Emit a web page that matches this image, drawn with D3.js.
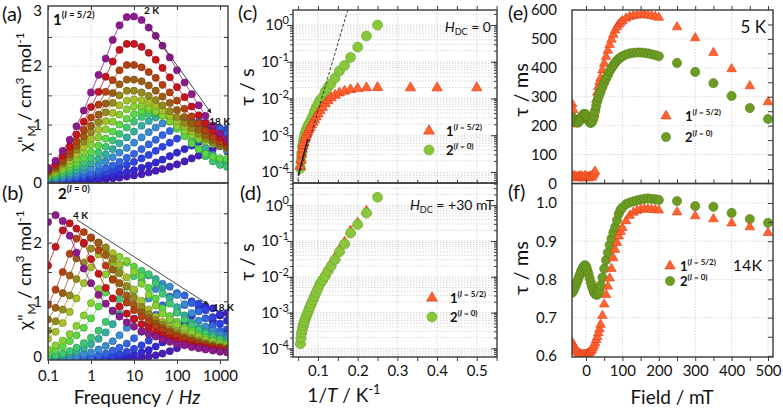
<!DOCTYPE html>
<html>
<head>
<meta charset="utf-8">
<script src="https://cdn.jsdelivr.net/npm/d3@7"></script>
<style>
  body { margin: 0; background: #fff; }
  svg text { font-family: Lato, "Open Sans", "DejaVu Sans", sans-serif; fill: #111; }
</style>
</head>
<body>
<svg id="chart" width="783" height="411"></svg>
<script>
// ---------- chi'' vs frequency, panels (a) and (b) ----------
const freqs = [0.1,0.15,0.22,0.32,0.46,0.68,1,1.5,2.2,3.2,4.6,6.8,10,15,22,32,46,68,100,150,220,320,460,680,1000,1450];

// one colour per temperature, low T first
const tempColors = ["#8e1a8e","#c8141e","#b4420f","#9c5e14","#968a1c","#a6c02a","#86d232","#5ad845",
                    "#3ec872","#34ae9e","#3a8cd4","#3366e4","#2e44e2","#3428d4","#4a1cbe"];

// compound 1 (2 K ... 18 K)
const chiCurves1 = [
  [0.26,0.38,0.55,0.74,0.97,1.24,1.55,1.85,2.13,2.45,2.7,2.84,2.85,2.79,2.66,2.52,2.35,2.15,1.93,1.72,1.52,1.33,1.15,0.98,0.85,0.75],
  [0.24,0.33,0.47,0.63,0.83,1.05,1.3,1.56,1.82,2.08,2.28,2.38,2.38,2.33,2.23,2.11,1.97,1.81,1.64,1.47,1.31,1.16,1.02,0.89,0.78,0.7],
  [0.22,0.3,0.41,0.55,0.72,0.91,1.12,1.34,1.56,1.76,1.93,2.02,2.02,1.98,1.9,1.8,1.68,1.55,1.41,1.27,1.14,1.02,0.9,0.8,0.71,0.65],
  [0.2,0.27,0.37,0.49,0.64,0.8,0.98,1.17,1.36,1.54,1.69,1.77,1.77,1.74,1.67,1.58,1.48,1.37,1.25,1.13,1.02,0.92,0.82,0.74,0.67,0.62],
  [0.18,0.24,0.33,0.44,0.57,0.71,0.87,1.04,1.21,1.37,1.5,1.58,1.58,1.55,1.49,1.42,1.33,1.23,1.13,1.03,0.94,0.85,0.77,0.7,0.64,0.6],
  [0.16,0.21,0.29,0.38,0.49,0.62,0.76,0.91,1.06,1.2,1.33,1.41,1.43,1.42,1.38,1.32,1.24,1.15,1.06,0.97,0.89,0.82,0.75,0.69,0.64,0.6],
  [0.14,0.18,0.24,0.32,0.42,0.53,0.65,0.78,0.92,1.05,1.17,1.26,1.31,1.32,1.29,1.23,1.15,1.06,0.97,0.89,0.82,0.76,0.71,0.67,0.64,0.62],
  [0.12,0.16,0.21,0.27,0.34,0.43,0.53,0.64,0.76,0.88,1.0,1.1,1.18,1.23,1.25,1.22,1.15,1.05,0.93,0.8,0.68,0.58,0.5,0.45,0.42,0.41],
  [0.1,0.13,0.17,0.22,0.28,0.35,0.43,0.52,0.62,0.73,0.84,0.95,1.05,1.13,1.18,1.2,1.17,1.1,0.99,0.86,0.72,0.58,0.46,0.37,0.31,0.28],
  [0.08,0.1,0.13,0.17,0.22,0.27,0.34,0.41,0.49,0.58,0.68,0.78,0.88,0.98,1.06,1.12,1.16,1.15,1.1,1.0,0.88,0.74,0.6,0.48,0.38,0.32],
  [0.06,0.08,0.1,0.13,0.16,0.2,0.25,0.31,0.37,0.44,0.52,0.6,0.69,0.78,0.87,0.95,1.02,1.08,1.11,1.1,1.05,0.97,0.87,0.75,0.64,0.55],
  [0.04,0.05,0.07,0.09,0.11,0.14,0.17,0.21,0.25,0.3,0.36,0.43,0.5,0.58,0.66,0.74,0.82,0.89,0.95,1.0,1.03,1.05,1.03,0.98,0.92,0.85],
  [0.03,0.04,0.05,0.06,0.08,0.1,0.12,0.15,0.18,0.22,0.26,0.31,0.36,0.42,0.48,0.55,0.62,0.69,0.76,0.82,0.87,0.91,0.94,0.95,0.94,0.92],
  [0.02,0.02,0.03,0.04,0.05,0.06,0.07,0.09,0.11,0.13,0.16,0.19,0.22,0.26,0.3,0.35,0.4,0.46,0.52,0.58,0.64,0.7,0.75,0.8,0.84,0.87],
  [0.01,0.01,0.02,0.02,0.03,0.04,0.04,0.05,0.06,0.08,0.09,0.11,0.13,0.15,0.18,0.21,0.24,0.28,0.32,0.37,0.42,0.47,0.52,0.58,0.63,0.68]
];

// compound 2 (4 K ... 18 K)
const chiCurves2 = [
  [2.35,2.47,2.37,2.12,1.83,1.56,1.31,1.11,0.96,0.84,0.74,0.64,0.57,0.49,0.44,0.4,0.35,0.31,0.27,0.25,0.22,0.2,0.18,0.16,0.14,0.13],
  [1.61,1.93,2.21,2.33,2.24,2.0,1.72,1.47,1.23,1.05,0.91,0.79,0.7,0.61,0.54,0.47,0.42,0.37,0.33,0.29,0.26,0.23,0.21,0.19,0.17,0.15],
  [0.94,1.2,1.5,1.81,2.07,2.18,2.09,1.87,1.61,1.37,1.16,0.98,0.85,0.74,0.65,0.57,0.5,0.44,0.39,0.35,0.31,0.27,0.24,0.22,0.2,0.17],
  [0.69,0.89,1.14,1.44,1.73,1.98,2.08,2.0,1.79,1.54,1.31,1.1,0.94,0.81,0.71,0.62,0.54,0.48,0.42,0.37,0.33,0.29,0.26,0.23,0.21,0.19],
  [0.5,0.66,0.86,1.1,1.38,1.66,1.9,2.0,1.92,1.72,1.48,1.26,1.06,0.9,0.78,0.68,0.6,0.52,0.46,0.4,0.36,0.32,0.28,0.25,0.22,0.2],
  [0.36,0.48,0.63,0.82,1.05,1.31,1.58,1.8,1.9,1.82,1.63,1.41,1.2,1.01,0.86,0.74,0.65,0.57,0.49,0.44,0.38,0.34,0.3,0.27,0.24,0.21],
  [0.18,0.25,0.33,0.44,0.58,0.76,0.97,1.21,1.46,1.67,1.76,1.69,1.51,1.3,1.11,0.93,0.79,0.69,0.6,0.53,0.46,0.4,0.35,0.32,0.28,0.25],
  [0.12,0.17,0.23,0.32,0.42,0.55,0.71,0.91,1.15,1.38,1.58,1.66,1.59,1.43,1.23,1.05,0.88,0.75,0.65,0.56,0.5,0.43,0.38,0.33,0.3,0.27],
  [0.06,0.08,0.11,0.15,0.21,0.29,0.38,0.5,0.65,0.83,1.04,1.25,1.43,1.52,1.46,1.31,1.13,0.96,0.81,0.69,0.59,0.51,0.45,0.39,0.35,0.3],
  [0.04,0.06,0.08,0.11,0.14,0.2,0.27,0.36,0.47,0.61,0.78,0.98,1.18,1.35,1.44,1.38,1.24,1.06,0.9,0.76,0.64,0.55,0.48,0.43,0.37,0.33],
  [0.02,0.03,0.04,0.05,0.07,0.1,0.13,0.18,0.24,0.32,0.42,0.55,0.7,0.88,1.05,1.21,1.3,1.25,1.11,0.95,0.8,0.67,0.57,0.5,0.43,0.38],
  [0.01,0.01,0.02,0.03,0.03,0.05,0.06,0.08,0.11,0.16,0.21,0.28,0.37,0.48,0.62,0.77,0.93,1.08,1.14,1.1,0.97,0.83,0.71,0.59,0.5,0.44],
  [0,0.01,0.01,0.01,0.02,0.02,0.03,0.04,0.05,0.07,0.1,0.14,0.19,0.25,0.33,0.42,0.54,0.68,0.81,0.94,1.0,0.96,0.85,0.73,0.62,0.52],
  [0,0,0.01,0.01,0.01,0.01,0.01,0.02,0.03,0.04,0.05,0.07,0.09,0.13,0.17,0.23,0.3,0.39,0.5,0.62,0.76,0.88,0.92,0.88,0.78,0.67],
  [0,0,0,0,0,0,0,0.01,0.01,0.01,0.02,0.02,0.03,0.04,0.06,0.08,0.11,0.15,0.2,0.26,0.34,0.44,0.55,0.66,0.76,0.8]
];

const freqTicks = [0.1, 1, 10, 100, 1000];
const chiTicks = [0, 1, 2];
// arrow annotations [freq, chi'']
const arrowA = [[21, 2.71], [617, 1.2]];
const arrowB = [[0.47, 2.39], [525, 0.95]];

// ---------- tau vs 1/T, panels (c) and (d) ----------
const invT = [0.0556,0.0571,0.0588,0.0606,0.0625,0.0645,0.0667,0.069,0.0714,0.0741,0.0769,0.08,0.0833,0.087,
              0.0909,0.0952,0.1,0.105,0.111,0.118,0.125,0.133,0.143,0.154,0.167,0.182,0.2,0.222,0.25];
const invTLow = [0.333, 0.4, 0.5];
// log10(tau / s)
const logTau1_0 = [-3.85,-3.68,-3.52,-3.38,-3.28,-3.2,-3.12,-3.05,-2.98,-2.91,-2.85,-2.79,-2.72,-2.65,-2.58,-2.5,
                   -2.42,-2.33,-2.24,-2.14,-2.06,-1.98,-1.91,-1.85,-1.8,-1.76,-1.73,-1.71,-1.7,-1.71,-1.71,-1.71];
const logTau2_0 = [-3.9,-3.7,-3.5,-3.3,-3.17,-3.07,-2.98,-2.9,-2.83,-2.76,-2.7,-2.65,-2.57,-2.48,-2.36,-2.25,
                   -2.15,-2.05,-1.97,-1.82,-1.7,-1.6,-1.44,-1.25,-1.1,-0.88,-0.6,-0.3,0];
const logTau1_30 = [-3.82,-3.66,-3.52,-3.42,-3.33,-3.25,-3.18,-3.1,-3.02,-2.95,-2.86,-2.77,-2.68,-2.58,-2.48,-2.37,
                    -2.26,-2.15,-2.04,-1.92,-1.79,-1.64,-1.46,-1.25,-1.03,-0.72,-0.5,-0.17];
const logTau2_30 = [-3.87,-3.7,-3.55,-3.45,-3.36,-3.28,-3.22,-3.14,-3.07,-3.0,-2.92,-2.84,-2.75,-2.65,-2.55,-2.44,
                    -2.32,-2.2,-2.1,-1.98,-1.84,-1.7,-1.52,-1.3,-1.08,-0.78,-0.54,-0.22,0.22];
const orbachInvT = [0.045, 0.18];
const orbachLogTau = [-4.36, 0.6];
const fitC_invT = [0.05, 0.074];
const fitC_logTau = [-4.1, -3.1];
const fitD_invT = [0.053,0.06,0.07,0.08,0.09,0.1,0.11,0.12,0.13,0.14,0.15,0.16];
const fitD_logTau = [-3.85,-3.5,-3.12,-2.84,-2.6,-2.33,-2.12,-1.95,-1.75,-1.56,-1.38,-1.2];
const invTTicks = [0.1, 0.2, 0.3, 0.4, 0.5];
const tauTicks = [1e-4, 1e-3, 1e-2, 1e-1, 1];

// ---------- tau vs field, panels (e) and (f) ----------
const fieldDense = [-38,-35,-32,-29,-26,-23,-20,-17,-14,-11,-8,-5,-2,1,4,7,10,13,16,19,22,25,28,31,34,37,
                    40,45,50,55,60,65,70,75,80,85,90,95,100,110,120,130,140,150,160,170,180,190,200];
const fieldFast = [-38,-35,-32,-29,-26,-23,-20,-17,-14,-11,-8,-5,-2,1,4,7,10,13,16,19,22,25];
const fieldSparse = [250, 300, 350, 400, 450, 500];
// 5 K, tau in ms
const tau1_5K = [275,255,228,205,215,220,222,224,225,226,226,226,225,224,222,220,218,218,222,230,242,262,290,315,335,352,
                 365,392,415,438,460,480,498,515,530,541,550,557,563,571,577,580,582,583,583,582,580,577,574];
const tau1_5K_fast = [25,22,27,20,24,19,23,26,21,25,18,22,27,20,24,19,23,26,21,28,35,42];
const tau2_5K = [228,224,219,215,212,211,213,218,225,232,238,241,240,236,229,220,212,209,212,220,232,250,268,285,298,308,
                 318,333,348,362,375,388,399,409,417,425,431,436,440,446,450,452,453,453,452,450,447,444,440];
const tau1_5K_sparse = [541, 503, 452, 396, 337, 282];
const tau2_5K_sparse = [417, 386, 347, 303, 261, 223];
// 14 K, tau in ms
const tau1_14K = [0.635,0.628,0.622,0.617,0.613,0.61,0.607,0.605,0.604,0.603,0.603,0.603,0.603,0.604,0.605,0.607,0.609,0.612,
                  0.616,0.621,0.627,0.634,0.642,0.65,0.66,0.67,0.682,0.705,0.735,0.76,0.782,0.803,0.828,0.856,0.878,0.896,
                  0.913,0.925,0.935,0.953,0.967,0.975,0.98,0.983,0.984,0.984,0.983,0.982,0.981];
const tau2_14K = [0.765,0.77,0.776,0.783,0.79,0.797,0.805,0.812,0.82,0.826,0.832,0.836,0.837,0.832,0.824,0.814,0.803,0.792,
                  0.782,0.774,0.767,0.762,0.76,0.76,0.764,0.772,0.785,0.805,0.828,0.85,0.87,0.89,0.907,0.923,0.937,0.955,
                  0.972,0.982,0.988,0.997,1.001,1.004,1.007,1.009,1.011,1.012,1.011,1.01,1.008];
const tau1_14K_sparse = [0.976, 0.966, 0.958, 0.947, 0.937, 0.922];
const tau2_14K_sparse = [1.005, 0.992, 0.99, 0.974, 0.958, 0.948];
const fieldTicks = [0, 100, 200, 300, 400, 500];
const msTicks = [0, 100, 200, 300, 400, 500, 600];
const ms14Ticks = [0.6, 0.7, 0.8, 0.9, 1.0];

// ---------- layout ----------
const box = {
  a: [48, 6, 228, 183],   b: [48, 183, 228, 360],
  c: [293, 10, 497, 183], d: [293, 183, 497, 357],
  e: [572, 10, 773, 183.5], f: [572, 183.5, 773, 357]
};
const RED = "#ff6430", RED_EDGE = "#e03a18";
const LGREEN = "#88c63c", LGREEN_EDGE = "#6aa828";
const DGREEN = "#6c9c22", DGREEN_EDGE = "#557f18";

const svg = d3.select("#chart");
const defs = svg.append("defs");
defs.append("marker").attr("id", "arrow").attr("viewBox", "0 0 10 10")
  .attr("refX", 9).attr("refY", 5).attr("markerWidth", 5).attr("markerHeight", 5).attr("orient", "auto")
  .append("path").attr("d", "M0,0L10,5L0,10z").attr("fill", "#222");

// scales
const xFreq = d3.scaleLog().domain([0.1, 1535]).range([48, 228]);
const yChiA = d3.scaleLinear().domain([0, 3.03]).range([183, 6]);
const yChiB = d3.scaleLinear().domain([0, 3]).range([360, 184]);
const xInvT = d3.scaleLinear().domain([0.037, 0.551]).range([293, 497]);
const yTauC = d3.scaleLog().domain([10 ** -4.3, 10 ** 0.41]).range([183, 10]);
const yTauD = d3.scaleLog().domain([10 ** -4.24, 10 ** 0.62]).range([357, 183]);
const xField = d3.scaleLinear().domain([-38.5, 513.7]).range([572, 773]);
const yTauE = d3.scaleLinear().domain([0, 600]).range([183.5, 10]);
const yTauF = d3.scaleLinear().domain([0.597, 1.051]).range([357, 183.5]);

function clipped(name) {
  const [x0, y0, x1, y1] = box[name];
  defs.append("clipPath").attr("id", "clip-" + name).append("rect")
    .attr("x", x0).attr("y", y0).attr("width", x1 - x0).attr("height", y1 - y0);
  return svg.append("g").attr("clip-path", `url(#clip-${name})`);
}

function grid(g, name, xs, xs_scale, ys, ys_scale) {
  const [x0, y0, x1, y1] = box[name];
  g.append("g").selectAll("line").data(xs).join("line")
    .attr("x1", d => xs_scale(d)).attr("x2", d => xs_scale(d)).attr("y1", y0).attr("y2", y1);
  g.append("g").selectAll("line").data(ys).join("line")
    .attr("y1", d => ys_scale(d)).attr("y2", d => ys_scale(d)).attr("x1", x0).attr("x2", x1);
  g.selectAll("line").attr("stroke", "#c9c9c9").attr("stroke-width", 0.7).attr("stroke-dasharray", "1.5,1.5");
}

function frame(name) {
  const [x0, y0, x1, y1] = box[name];
  svg.append("rect").attr("x", x0).attr("y", y0).attr("width", x1 - x0).attr("height", y1 - y0)
    .attr("fill", "none").attr("stroke", "#3a3a3a").attr("stroke-width", 1.4);
}

function ticks(axisFn, scale, vals, size, tx, ty) {
  const g = svg.append("g").attr("transform", `translate(${tx},${ty})`)
    .call(axisFn(scale).tickValues(vals).tickSize(size).tickFormat(""));
  g.select(".domain").remove();
  g.selectAll("line").attr("stroke", "#3a3a3a").attr("stroke-width", 1);
  return g;
}

function labels(axisFn, scale, vals, fmt, tx, ty, pad) {
  const g = svg.append("g").attr("transform", `translate(${tx},${ty})`)
    .call(axisFn(scale).tickValues(vals).tickSize(0).tickPadding(pad).tickFormat(fmt));
  g.select(".domain").remove();
  g.attr("font-family", null).attr("font-size", 15);
  g.selectAll("text").attr("fill", "#111");
  return g;
}

function powLabels(g) {
  g.selectAll("text").text(null).each(function (d) {
    const t = d3.select(this);
    t.append("tspan").text("10");
    t.append("tspan").attr("dy", "-0.55em").attr("font-size", 11).text(Math.round(Math.log10(d)));
  });
}

function logMinor(lo, hi) {
  const out = [];
  for (let e = -5; e <= 0; e++) for (let m = 1; m <= 9; m++) {
    const v = m * 10 ** e;
    if (v >= lo && v <= hi) out.push(v);
  }
  return out;
}

// ---------- panels (a) and (b) ----------
function chiPanel(name, curves, yScale) {
  const g = clipped(name);
  const [x0, y0, x1, y1] = box[name];
  grid(g, name, [1, 10, 100, 1000], xFreq, [0.5, 1, 1.5, 2, 2.5], yScale);
  const line = d3.line().x(d => xFreq(d[0])).y(d => yScale(d[1]));
  // high temperatures first so the low-T curves sit on top
  d3.range(curves.length - 1, -1, -1).forEach(i => {
    const col = tempColors[i];
    const pts = freqs.map((f, j) => [f, curves[i][j]]);
    g.append("path").datum(pts).attr("d", line)
      .attr("fill", "none").attr("stroke", col).attr("stroke-width", 0.8);
    g.append("g").selectAll("circle").data(pts).join("circle")
      .attr("cx", d => xFreq(d[0])).attr("cy", d => yScale(d[1])).attr("r", 3.6)
      .attr("fill", col).attr("stroke", d3.color(col).darker(1)).attr("stroke-width", 0.6);
  });
  frame(name);
  ticks(d3.axisRight, yScale, [0.5, 1, 1.5, 2, 2.5], 4, x0, 0);
  ticks(d3.axisLeft, yScale, [0.5, 1, 1.5, 2, 2.5], 4, x1, 0);
}
chiPanel("a", chiCurves1, yChiA);
chiPanel("b", chiCurves2, yChiB);
ticks(d3.axisBottom, xFreq, freqTicks, 4, 0, box.a[1]);
ticks(d3.axisBottom, xFreq, freqTicks, 4, 0, box.b[3]);
labels(d3.axisLeft, yChiA, chiTicks, d3.format("d"), box.a[0], 0, 6);
labels(d3.axisLeft, yChiA, [3], d3.format("d"), box.a[0], 3, 6);
labels(d3.axisLeft, yChiB, [1, 2], d3.format("d"), box.b[0], 0, 6);
labels(d3.axisLeft, yChiB, [0], d3.format("d"), box.b[0], -3, 6);
labels(d3.axisBottom, xFreq, freqTicks, d => String(d), 0, box.b[3], 10);

function arrow(pts, yScale) {
  svg.append("line")
    .attr("x1", xFreq(pts[0][0])).attr("y1", yScale(pts[0][1]))
    .attr("x2", xFreq(pts[1][0])).attr("y2", yScale(pts[1][1]))
    .attr("stroke", "#333").attr("stroke-width", 0.9).attr("marker-end", "url(#arrow)");
}
arrow(arrowA, yChiA);
arrow(arrowB, yChiB);
function note(txt, x, y) {
  svg.append("text").attr("x", x).attr("y", y).attr("font-size", 10).attr("font-weight", 700).text(txt);
}
note("2 K", xFreq(17), yChiA(2.9));
note("18 K", xFreq(560), yChiA(1.0));
note("4 K", xFreq(0.38), yChiB(2.4));
note("18 K", xFreq(690), yChiB(0.83));

function compoundLabel(x, y, num, spin, size) {
  const t = svg.append("text").attr("x", x).attr("y", y).attr("font-weight", 700).attr("font-size", size);
  t.append("tspan").text(num);
  const s = t.append("tspan").attr("dy", -size * 0.45).attr("font-size", size * 0.62);
  s.append("tspan").text("(");
  s.append("tspan").attr("font-style", "italic").text("I");
  s.append("tspan").text(" = " + spin + ")");
}
compoundLabel(53, 25, "1", "5/2", 15);
compoundLabel(58, 199, "2", "0", 15);

// ---------- panels (c) and (d) ----------
const tri = d3.symbol(d3.symbolTriangle);
const gC = clipped("c");
{
  const [lo, hi] = yTauC.domain();
  grid(gC, "c", invTTicks, xInvT, logMinor(lo, hi), yTauC);
  gC.append("g").selectAll("circle").data(d3.zip(invT, logTau2_0)).join("circle")
    .attr("cx", d => xInvT(d[0])).attr("cy", d => yTauC(10 ** d[1])).attr("r", 5)
    .attr("fill", LGREEN).attr("stroke", LGREEN_EDGE).attr("stroke-width", 0.6);
  gC.append("g").selectAll("path").data(d3.zip(invT.concat(invTLow), logTau1_0)).join("path")
    .attr("d", tri.size(46)).attr("transform", d => `translate(${xInvT(d[0])},${yTauC(10 ** d[1])})`)
    .attr("fill", RED).attr("stroke", RED_EDGE).attr("stroke-width", 0.7);
}
const tauLine = yScale => d3.line().x(d => xInvT(d[0])).y(d => yScale(10 ** d[1]));
gC.append("path").datum(d3.zip(orbachInvT, orbachLogTau)).attr("d", tauLine(yTauC))
  .attr("fill", "none").attr("stroke", "#222").attr("stroke-width", 0.9).attr("stroke-dasharray", "3,2");
gC.append("path").datum(d3.zip(fitC_invT, fitC_logTau)).attr("d", tauLine(yTauC))
  .attr("fill", "none").attr("stroke", "#111").attr("stroke-width", 1.3);

const gD = clipped("d");
{
  const [lo, hi] = yTauD.domain();
  grid(gD, "d", invTTicks, xInvT, logMinor(lo, hi), yTauD);
  gD.append("g").selectAll("path").data(d3.zip(invT.slice(0, logTau1_30.length), logTau1_30)).join("path")
    .attr("d", tri.size(46)).attr("transform", d => `translate(${xInvT(d[0])},${yTauD(10 ** d[1])})`)
    .attr("fill", RED).attr("stroke", RED_EDGE).attr("stroke-width", 0.7);
  gD.append("path").datum(d3.zip(fitD_invT, fitD_logTau)).attr("d", tauLine(yTauD).curve(d3.curveMonotoneX))
    .attr("fill", "none").attr("stroke", "#e8552a").attr("stroke-width", 1.4);
  gD.append("g").selectAll("circle").data(d3.zip(invT, logTau2_30)).join("circle")
    .attr("cx", d => xInvT(d[0])).attr("cy", d => yTauD(10 ** d[1])).attr("r", 5)
    .attr("fill", LGREEN).attr("stroke", LGREEN_EDGE).attr("stroke-width", 0.6);
}
frame("c"); frame("d");
[["c", yTauC], ["d", yTauD]].forEach(([name, ys]) => {
  const [x0, , x1] = box[name];
  const [lo, hi] = ys.domain();
  ticks(d3.axisLeft, ys, logMinor(lo, hi), 3, x0, 0);
  ticks(d3.axisLeft, ys, tauTicks, 6, x0, 0);
  ticks(d3.axisLeft, ys, logMinor(lo, hi), 3, x1, 0);
  ticks(d3.axisLeft, ys, tauTicks, 6, x1, 0);
  powLabels(labels(d3.axisLeft, ys, tauTicks, null, x0, 0, 4));
});
const halfSteps = d3.range(0.05, 0.551, 0.05);
ticks(d3.axisTop, xInvT, halfSteps, 4, 0, box.c[1]);
ticks(d3.axisBottom, xInvT, halfSteps, 4, 0, box.d[3]);
ticks(d3.axisTop, xInvT, halfSteps, 3, 0, box.d[1]);
labels(d3.axisBottom, xInvT, invTTicks, d3.format(".1f"), 0, box.d[3], 8);

function legend(x, y1, y2, tx, green, greenR, size) {
  svg.append("path").attr("d", tri.size(size)).attr("transform", `translate(${x},${y1})`)
    .attr("fill", RED).attr("stroke", RED_EDGE).attr("stroke-width", 0.7);
  svg.append("circle").attr("cx", x).attr("cy", y2).attr("r", greenR)
    .attr("fill", green[0]).attr("stroke", green[1]).attr("stroke-width", 0.6);
  compoundLabel(tx, y1 + 5, "1", "5/2", 13);
  compoundLabel(tx, y2 + 5, "2", "0", 13);
}
legend(429, 131, 150, 446, [LGREEN, LGREEN_EDGE], 5, 50);
legend(432, 298, 317, 450, [LGREEN, LGREEN_EDGE], 5, 50);

function hdc(xEnd, y, rest) {
  const t = svg.append("text").attr("x", xEnd).attr("y", y).attr("text-anchor", "end").attr("font-size", 14);
  t.append("tspan").attr("font-style", "italic").text("H");
  t.append("tspan").attr("dy", 3).attr("font-size", 9).text("DC");
  t.append("tspan").attr("dy", -3).text(rest);
}
hdc(491, 32, " = 0");
hdc(494, 210, " = +30 mT");

// ---------- panels (e) and (f) ----------
function fieldPanel(name, yScale, yGrid, t1, t1s, t2, t2s, extra, redFirst) {
  const g = clipped(name);
  grid(g, name, [0, 100, 200, 300, 400, 500], xField, yGrid, yScale);
  const greens = d3.zip(fieldDense.concat(fieldSparse), t2.concat(t2s));
  const reds = d3.zip(fieldDense.concat(fieldSparse), t1.concat(t1s)).concat(extra);
  const drawGreen = () => g.append("g").selectAll("circle").data(greens).join("circle")
    .attr("cx", d => xField(d[0])).attr("cy", d => yScale(d[1])).attr("r", 4.6)
    .attr("fill", DGREEN).attr("stroke", DGREEN_EDGE).attr("stroke-width", 0.6);
  const drawRed = () => g.append("g").selectAll("path").data(reds).join("path")
    .attr("d", tri.size(40)).attr("transform", d => `translate(${xField(d[0])},${yScale(d[1])})`)
    .attr("fill", RED).attr("stroke", RED_EDGE).attr("stroke-width", 0.6);
  if (redFirst) { drawRed(); drawGreen(); } else { drawGreen(); drawRed(); }
  frame(name);
}
fieldPanel("e", yTauE, [100, 200, 300, 400, 500], tau1_5K, tau1_5K_sparse, tau2_5K, tau2_5K_sparse,
           d3.zip(fieldFast, tau1_5K_fast), true);
fieldPanel("f", yTauF, [0.7, 0.8, 0.9, 1.0], tau1_14K, tau1_14K_sparse, tau2_14K, tau2_14K_sparse, [], false);
const fieldHalf = d3.range(0, 501, 50);
ticks(d3.axisTop, xField, fieldHalf, 4, 0, box.e[1]);
ticks(d3.axisTop, xField, fieldHalf, 4, 0, box.e[3]);
ticks(d3.axisBottom, xField, fieldHalf, 4, 0, box.f[3]);
ticks(d3.axisLeft, yTauE, d3.range(50, 600, 50), 5, box.e[2], 0);
ticks(d3.axisLeft, yTauF, d3.range(0.6, 1.05, 0.05), 5, box.f[2], 0);
labels(d3.axisLeft, yTauE, msTicks, d3.format("d"), box.e[0], 0, 15);
labels(d3.axisLeft, yTauF, ms14Ticks, d3.format(".1f"), box.f[0], 0, 15);
labels(d3.axisBottom, xField, fieldTicks, d3.format("d"), 0, box.f[3], 8);
legend(666, 116, 137, 685, [DGREEN, DGREEN_EDGE], 4.6, 44);
legend(670, 266, 281, 680, [DGREEN, DGREEN_EDGE], 4.6, 44);
svg.append("text").attr("x", 766).attr("y", 33).attr("text-anchor", "end").attr("font-size", 17).text("5 K");
svg.append("text").attr("x", 762).attr("y", 271).attr("text-anchor", "end").attr("font-size", 16).text("14K");

// ---------- titles ----------
[["(a)", 2, 21], ["(b)", 2, 200], ["(c)", 238, 20], ["(d)", 240, 200], ["(e)", 508, 20], ["(f)", 508, 199]]
  .forEach(([s, x, y]) => svg.append("text").attr("x", x).attr("y", y).attr("font-size", 20).text(s));

function chiTitle(cy) {
  const t = svg.append("text").attr("transform", `translate(31,${cy}) rotate(-90)`)
    .attr("text-anchor", "middle").attr("font-size", 18);
  t.append("tspan").text("χ\"");
  t.append("tspan").attr("dy", 5).attr("font-size", 12).text("M");
  t.append("tspan").attr("dy", -5).text(" / cm");
  t.append("tspan").attr("dy", -7).attr("font-size", 12).text("3");
  t.append("tspan").attr("dy", 7).text(" mol");
  t.append("tspan").attr("dy", -7).attr("font-size", 12).text("-1");
}
chiTitle(92);
chiTitle(270);
function tauTitle(x, cy, unit) {
  svg.append("text").attr("transform", `translate(${x},${cy}) rotate(-90)`)
    .attr("text-anchor", "middle").attr("font-size", 20).text("τ / " + unit);
}
tauTitle(254, 87, "s");
tauTitle(254, 262, "s");
tauTitle(528, 90, "ms");
tauTitle(528, 268, "ms");

const fx = svg.append("text").attr("x", 137).attr("y", 404).attr("text-anchor", "middle").attr("font-size", 19);
fx.append("tspan").text("Frequency / ");
fx.append("tspan").attr("font-style", "italic").text("Hz");
const tx = svg.append("text").attr("x", 344).attr("y", 402).attr("text-anchor", "middle").attr("font-size", 19);
tx.append("tspan").text("1/");
tx.append("tspan").attr("font-style", "italic").text("T");
tx.append("tspan").text(" / K");
tx.append("tspan").attr("dy", -8).attr("font-size", 13).text("-1");
svg.append("text").attr("x", 672).attr("y", 404).attr("text-anchor", "middle").attr("font-size", 19).text("Field / mT");
</script>
</body>
</html>
